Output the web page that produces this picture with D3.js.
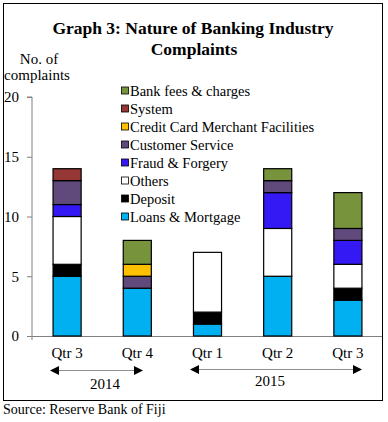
<!DOCTYPE html>
<html><head><meta charset="utf-8">
<script src="https://cdn.jsdelivr.net/npm/d3@7"></script>
<style>body{margin:0;background:#fff;}svg{display:block;} svg text{font-family:"Liberation Serif","Times New Roman","DejaVu Serif",serif !important;}</style>
</head><body>
<svg id="c" width="388" height="422"></svg>
<script>
const categories = ["Qtr 3","Qtr 4","Qtr 1","Qtr 2","Qtr 3 "];
const categoryLabels = ["Qtr 3","Qtr 4","Qtr 1","Qtr 2","Qtr 3"];
const seriesNames = ["Loans & Mortgage","Deposit","Others","Fraud & Forgery","Customer Service","Credit Card Merchant Facilities","System","Bank fees & charges"];
const seriesColors = ["#00B0F0","#000000","#FFFFFF","#3519F5","#604A7B","#FFC000","#953735","#77933C"];
const loans    = [5,4,1,5,3];
const deposit  = [1,0,1,0,1];
const others   = [4,0,5,4,2];
const fraud    = [1,0,0,3,2];
const customer = [2,1,0,1,1];
const creditCard = [0,1,0,0,0];
const system   = [1,0,0,0,0];
const bankFees = [0,2,0,1,3];
const yTicks = [0,5,10,15,20];
const years = ["2014","2015"];

const seriesValues = [loans,deposit,others,fraud,customer,creditCard,system,bankFees];
const FONT = "Liberation Serif, Times New Roman, serif";
const svg = d3.select("#c").attr("font-family",FONT);

svg.append("rect").attr("x",3.5).attr("y",3.5).attr("width",379).attr("height",397)
  .attr("fill","none").attr("stroke","#000").attr("stroke-width",1);

svg.append("text").attr("x",193).attr("y",34).attr("text-anchor","middle")
  .attr("font-size",17.5).attr("font-weight","bold").text("Graph 3: Nature of Banking Industry");
svg.append("text").attr("x",194).attr("y",55).attr("text-anchor","middle")
  .attr("font-size",17.5).attr("font-weight","bold").text("Complaints");

svg.append("text").attr("x",39).attr("y",64).attr("text-anchor","middle").attr("font-size",15).text("No. of");
svg.append("text").attr("x",37).attr("y",80).attr("text-anchor","middle").attr("font-size",15).text("complaints");

const x = d3.scaleBand().domain(categories).range([32,383]).paddingInner(0.6).paddingOuter(0.3);
const y = d3.scaleLinear().domain([0,20]).range([336,97]);

const table = categories.map((c,i)=>{const o={cat:c}; seriesNames.forEach((s,j)=>o[s]=seriesValues[j][i]); return o;});
const stack = d3.stack().keys(seriesNames)(table);

const yAxis = svg.append("g").attr("transform","translate(32,0)")
  .call(d3.axisLeft(y).tickValues(yTicks).tickSize(5).tickPadding(8));
yAxis.attr("font-family",FONT);
yAxis.select(".domain").attr("stroke","#808080").attr("d","M-5,"+y(20)+"H0V"+y(0));
yAxis.selectAll(".tick line").attr("stroke","#808080");
yAxis.selectAll(".tick text").attr("font-size",15).attr("fill","#000");

svg.append("line").attr("x1",32).attr("x2",382).attr("y1",y(0)+0.5).attr("y2",y(0)+0.5).attr("stroke","#808080");
svg.append("line").attr("x1",32).attr("x2",32).attr("y1",y(0)).attr("y2",y(0)+4).attr("stroke","#808080");

stack.forEach((layer,j)=>{
  svg.append("g").selectAll("rect").data(layer.filter(d=>d[1]-d[0]>0)).join("rect")
    .attr("x",d=>x(d.data.cat)).attr("width",x.bandwidth())
    .attr("y",d=>y(d[1])).attr("height",d=>y(d[0])-y(d[1]))
    .attr("fill",seriesColors[j]).attr("stroke","#000").attr("stroke-width",1.2);
});

svg.append("g").selectAll("text").data(categories).join("text")
  .attr("x",d=>x(d)+x.bandwidth()/2).attr("y",358).attr("text-anchor","middle").attr("font-size",15)
  .text((d,i)=>categoryLabels[i]);

const legend = svg.append("g");
const order = seriesNames.map((s,i)=>i).reverse();
order.forEach((j,k)=>{
  const ly = 90.5 + k*18;
  legend.append("rect").attr("x",121.5).attr("y",ly-3.5).attr("width",7).attr("height",7)
    .attr("fill",seriesColors[j]).attr("stroke","#000").attr("stroke-width",0.8);
  legend.append("text").attr("x",130).attr("y",ly+5).attr("font-size",14.5).text(seriesNames[j]);
});

const arrows = [{xs:[50,143], ay:370.5, tx:105, ty:389},{xs:[190,362], ay:369.5, tx:270, ty:386}];
arrows.forEach((a,i)=>{
  const xs=a.xs, ay=a.ay;
  svg.append("line").attr("x1",xs[0]+8).attr("x2",xs[1]-8).attr("y1",ay).attr("y2",ay).attr("stroke","#909090").attr("stroke-width",1.2);
  svg.append("path").attr("d",`M${xs[0]},${ay}L${xs[0]+9},${ay-4.5}L${xs[0]+9},${ay+4.5}Z`).attr("fill","#000");
  svg.append("path").attr("d",`M${xs[1]},${ay}L${xs[1]-9},${ay-4.5}L${xs[1]-9},${ay+4.5}Z`).attr("fill","#000");
  svg.append("text").attr("x",a.tx).attr("y",a.ty).attr("text-anchor","middle").attr("font-size",15).text(years[i]);
});

svg.append("text").attr("x",3).attr("y",414).attr("font-size",14).text("Source: Reserve Bank of Fiji");
</script>
</body></html>
